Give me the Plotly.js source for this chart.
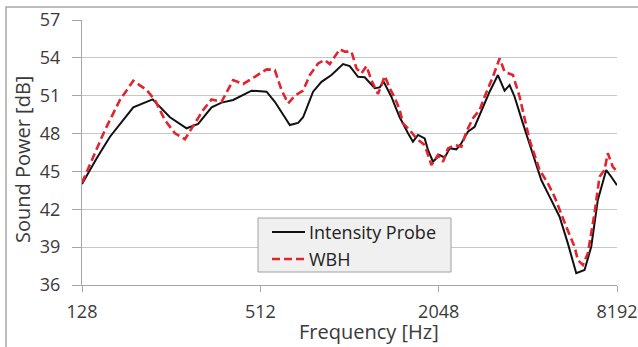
<!DOCTYPE html>
<html>
<head>
<meta charset="utf-8">
<script src="https://cdn.plot.ly/plotly-3.0.1.min.js"></script>
<style>html,body{margin:0;padding:0;background:#fff;}#chart{width:638px;height:347px;}</style>
</head>
<body>
<div id="chart"></div>
<script>
// Data
const freqProbe = [128,143.5,159.1,176.4,190.7,221.7,253.6,288.6,315.8,350.5,378.8,414.5,478.2,537.3,573.1,619.3,643.8,669.4,686.7,713.9,771.6,823.6,890.1,974,1026,1094,1153,1246,1295,1336,1418,1455,1513,1614,1677,1744,1837,1885,1959,2064,2146,2231,2350,2443,2571,2709,2853,3043,3246,3419,3555,3695,3942,4208,4547,4850,5242,5591,5968,6365,6705,7058,7534,7832,8192];
const probeDb = [44.0,46.04,47.75,49.07,50.08,50.71,49.29,48.42,48.76,50.08,50.45,50.66,51.4,51.32,50.52,49.29,48.68,48.78,48.85,49.29,51.32,52.1,52.64,53.51,53.35,52.5,52.46,51.59,51.66,52.1,50.92,50.26,49.29,48.02,47.36,47.89,47.62,46.7,45.77,46.3,46.09,46.83,46.75,47.23,48.15,48.54,49.73,51.32,52.64,51.4,51.85,50.92,48.81,46.7,44.32,43.0,41.41,39.3,36.93,37.19,39.03,42.74,45.11,44.58,43.9];

const freqWbh = [128,139.7,153.0,171.9,190.7,211.6,225.6,243.9,263.6,284.9,307.9,328.3,350.5,378.8,414.5,448.0,490.6,537.3,573.1,603.6,635.4,669.4,713.9,752.0,802.1,844.9,878.4,949.4,987.0,1040,1081,1124,1168,1214,1278,1347,1400,1455,1513,1552,1635,1722,1837,1935,2037,2118,2202,2319,2443,2540,2673,2816,2927,3122,3289,3419,3647,3842,4152,4488,4787,5042,5522,5890,6043,6282,6530,6879,7151,7434,7628,7930,8192];
const wbhDb = [44.1,46.17,48.28,50.66,52.19,51.45,50.66,49.07,48.02,47.55,48.81,49.87,50.71,50.52,52.24,51.93,52.5,53.09,53.04,51.45,50.4,51.0,51.4,52.64,53.56,53.83,53.51,54.68,54.49,54.49,53.17,52.77,53.35,52.24,51.13,52.56,51.59,50.85,49.87,48.81,48.28,47.62,47.09,45.51,46.3,45.77,46.83,47.09,46.96,48.15,49.21,49.87,50.92,52.5,53.96,52.9,52.64,50.92,47.49,45.11,44.06,43.0,40.62,39.03,37.98,37.58,38.51,41.68,44.58,45.11,46.44,45.37,45.0];

const seriesNames = ["Intensity Probe", "WBH"];
const xTicks = [128, 512, 2048, 8192];
const yTicks = [36, 39, 42, 45, 48, 51, 54, 57];

const FONT = "'Open Sans', 'Liberation Sans', sans-serif";
const TXT = "#3a3a3a";
const AX = "#a6a6a6";
const BLACK = "#111111";
const RED = "#e0252f";
const RED_DASH = "8px,4px";

// plot area in pixels: x 82..617, y 20..285
const L = 82, R = 617, T = 20, B = 285;
const W = R - L, H = B - T;
const px = v => (v - L) / W;
const py = v => (B - v) / H;

const traces = [
  {x: freqProbe, y: probeDb, name: seriesNames[0], type: "scatter", mode: "lines",
   line: {color: BLACK, width: 2}},
  {x: freqWbh, y: wbhDb, name: seriesNames[1], type: "scatter", mode: "lines",
   line: {color: RED, width: 2.6, dash: RED_DASH}}
];

const legendItems = [
  {name: seriesNames[0], y: 232, color: BLACK, width: 2, dash: "solid"},
  {name: seriesNames[1], y: 259, color: RED, width: 2.6, dash: RED_DASH}
];

const shapes = [
  {type: "rect", xref: "paper", yref: "paper",
   x0: px(6), x1: 1.2, y0: -0.5, y1: py(7),
   line: {color: "#a8a8a8", width: 1.5}, fillcolor: "rgba(0,0,0,0)", layer: "below"},
  {type: "rect", xref: "paper", yref: "paper",
   x0: px(258), x1: px(451), y0: py(272), y1: py(218),
   line: {color: "#a0a0a0", width: 1}, fillcolor: "#f0f0f0", layer: "above"}
];
const annotations = [
  {text: "Frequency [Hz]", xref: "paper", yref: "paper",
   x: px(369), y: py(331), xanchor: "center", yanchor: "middle",
   showarrow: false, font: {family: FONT, size: 20, color: TXT}},
  {text: "Sound Power [dB]", xref: "paper", yref: "paper", textangle: -90,
   x: px(22), y: py(160), xanchor: "center", yanchor: "middle",
   showarrow: false, font: {family: FONT, size: 20, color: TXT}}
];
legendItems.forEach(it => {
  shapes.push({type: "line", xref: "paper", yref: "paper",
    x0: px(272), x1: px(305), y0: py(it.y), y1: py(it.y),
    line: {color: it.color, width: it.width, dash: it.dash}, layer: "above"});
  annotations.push({text: it.name, xref: "paper", yref: "paper",
    x: px(307), y: py(it.y), xanchor: "left", yanchor: "middle",
    showarrow: false, font: {family: FONT, size: 18, color: "#222"}});
});

const layout = {
  width: 638, height: 347,
  margin: {l: L, r: 638 - R, t: T, b: 347 - B},
  paper_bgcolor: "#ffffff", plot_bgcolor: "#ffffff",
  font: {family: FONT, size: 17, color: TXT},
  showlegend: false,
  xaxis: {
    type: "log", range: [Math.log10(128), Math.log10(8192)],
    tickmode: "array", tickvals: xTicks, ticktext: xTicks.map(String),
    showgrid: false, zeroline: false, showline: true, linecolor: AX, linewidth: 1,
    ticks: "outside", ticklen: 6, tickcolor: AX, tickwidth: 1,
    ticklabelstandoff: 4,
    tickfont: {family: FONT, size: 18, color: TXT}
  },
  yaxis: {
    range: [36, 57], tickmode: "array", tickvals: yTicks, ticktext: yTicks.map(String),
    showgrid: true, gridcolor: "#c6c6c6", gridwidth: 1, zeroline: false,
    showline: true, linecolor: AX, linewidth: 1,
    ticks: "outside", ticklen: 9, tickcolor: AX, tickwidth: 1,
    ticklabelstandoff: 8,
    tickfont: {family: FONT, size: 18, color: TXT}
  },
  annotations: annotations,
  shapes: shapes
};

Plotly.newPlot("chart", traces, layout, {staticPlot: true, displayModeBar: false});
</script>
</body>
</html>
